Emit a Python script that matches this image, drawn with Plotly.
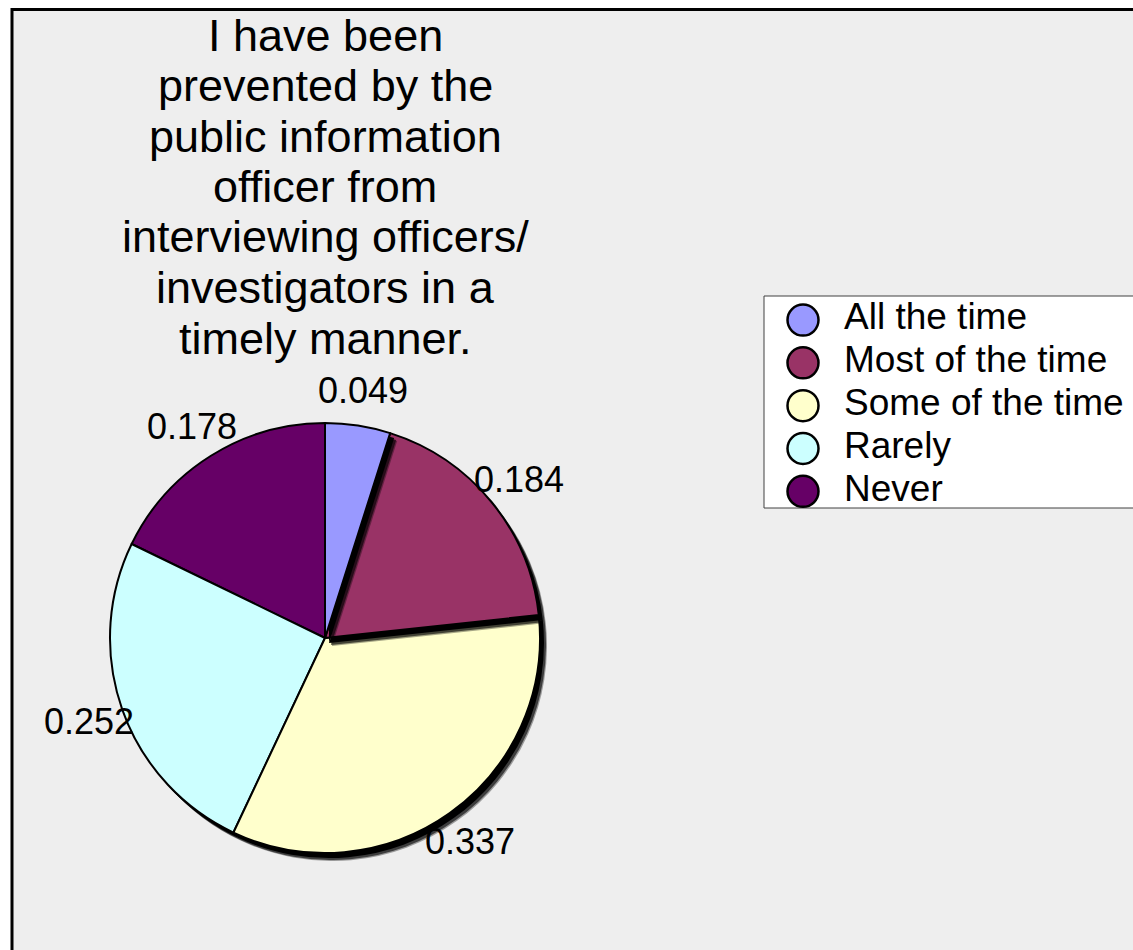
import math
import plotly.graph_objects as go

# ---- data ----
categories = ["All the time", "Most of the time", "Some of the time", "Rarely", "Never"]
shares = [0.049, 0.184, 0.337, 0.252, 0.178]
title_lines = [
    "I have been",
    "prevented by the",
    "public information",
    "officer from",
    "interviewing officers/",
    "investigators in a",
    "timely manner.",
]

# ---- styles ----
slice_colors = ["#9999FF", "#993366", "#FFFFCC", "#CCFFFF", "#660066"]
FONT = "Liberation Sans, Arial, Helvetica, sans-serif"
CLEAR = "rgba(0,0,0,0)"

W, H = 1133, 950

# pie geometry (pixels)
CX, CY, R = 325, 638, 215
LABEL_R = 250
# drop shadow: (dx, dy, opacity) layers, the outer one softer
SHADOW_LAYERS = [(7, 8, 0.35), (6, 7, 0.6), (4, 5, 1.0)]


def fx(x):
    return x / W


def fy(y):
    return 1 - y / H


def pie_domain(cx, cy):
    return dict(x=[fx(cx - R), fx(cx + R)], y=[fy(cy + R), fy(cy - R)])


def single_slice(i, colour, line_width, dom, opacity=1.0):
    """A pie trace where only slice i is painted; the rest stay transparent."""
    colours = [colour if k == i else CLEAR for k in range(len(shares))]
    widths = [line_width if k == i else 0 for k in range(len(shares))]
    return go.Pie(
        values=shares, labels=categories, sort=False, direction="clockwise", rotation=0,
        domain=dom, opacity=opacity,
        marker=dict(colors=colours, line=dict(color="#000000", width=widths)),
        textinfo="none", hoverinfo="skip" if colour == "#000000" else "label+value",
        showlegend=False,
    )


fig = go.Figure()

# slices are painted last-to-first, each with its own shadow, so every
# shadow falls on the neighbour that follows it clockwise
for i in reversed(range(len(shares))):
    for dx, dy, op in SHADOW_LAYERS:
        fig.add_trace(single_slice(i, "#000000", 0, pie_domain(CX + dx, CY + dy), op))
    fig.add_trace(single_slice(i, slice_colors[i], 2, pie_domain(CX, CY)))

# value labels around the pie
annotations = []
total = sum(shares)
cum = 0.0
for v in shares:
    mid = (cum + v / 2) / total * 2 * math.pi
    cum += v
    lx = CX + LABEL_R * math.sin(mid)
    ly = CY - LABEL_R * math.cos(mid)
    annotations.append(dict(
        text=f"{v:.3f}", x=fx(lx), y=fy(ly), xref="paper", yref="paper",
        xanchor="center", yanchor="middle", showarrow=False,
        font=dict(family=FONT, size=36, color="#000000"),
    ))

# title, one line per annotation for tight line spacing
TITLE_TOP, TITLE_STEP = 35, 50.5
for i, line in enumerate(title_lines):
    annotations.append(dict(
        text=line, x=fx(CX), y=fy(TITLE_TOP + i * TITLE_STEP), xref="paper", yref="paper",
        xanchor="center", yanchor="middle", showarrow=False,
        font=dict(family=FONT, size=45, color="#000000"),
    ))

# legend: circles and names on their own small axes
LEG_L, LEG_T, LEG_B = 764, 296, 508
fig.add_trace(go.Scatter(
    x=[39] * len(categories), y=list(range(len(categories))), mode="markers",
    marker=dict(symbol="circle", size=31, color=slice_colors, line=dict(color="#000000", width=2.5)),
    hoverinfo="skip", showlegend=False, xaxis="x", yaxis="y", cliponaxis=False,
))
fig.add_trace(go.Scatter(
    x=[80] * len(categories), y=list(range(len(categories))), mode="text",
    text=categories, textposition="middle right",
    textfont=dict(family=FONT, size=37, color="#000000"),
    hoverinfo="skip", showlegend=False, xaxis="x", yaxis="y", cliponaxis=False,
))

shapes = [
    # chart area with border
    dict(type="rect", xref="paper", yref="paper", x0=fx(12), x1=1.05, y0=-0.05, y1=fy(9.5),
         fillcolor="#EEEEEE", line=dict(color="#000000", width=3), layer="below"),
    # legend box
    dict(type="rect", xref="paper", yref="paper", x0=fx(LEG_L), x1=1.02, y0=fy(LEG_B), y1=fy(LEG_T),
         fillcolor="#FFFFFF", line=dict(color="#404040", width=1), layer="below"),
]

fig.update_layout(
    width=W, height=H, margin=dict(l=0, r=0, t=0, b=0),
    paper_bgcolor="#FFFFFF", plot_bgcolor="rgba(0,0,0,0)",
    showlegend=False,
    xaxis=dict(domain=[fx(LEG_L), 1], range=[0, W - LEG_L], visible=False, fixedrange=True),
    yaxis=dict(domain=[fy(LEG_B), fy(LEG_T)], range=[4.39, -0.562], visible=False, fixedrange=True),
    annotations=annotations, shapes=shapes,
    font=dict(family=FONT),
)

fig.write_html("out.html")
